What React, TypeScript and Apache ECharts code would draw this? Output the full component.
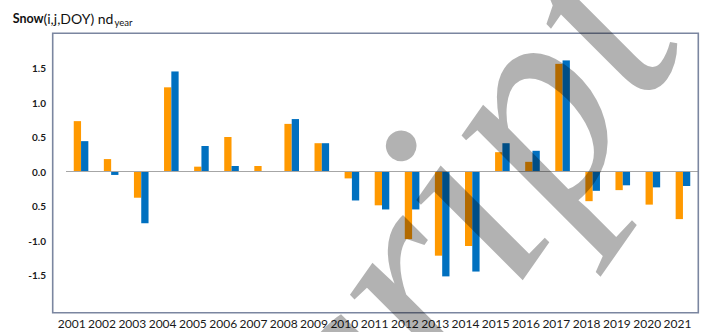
import React, { useEffect, useRef } from "react";
import * as echarts from "echarts";

// Years on the category axis
const years = [
  "2001", "2002", "2003", "2004", "2005", "2006", "2007", "2008", "2009", "2010", "2011",
  "2012", "2013", "2014", "2015", "2016", "2017", "2018", "2019", "2020", "2021",
];

// Annual snow-day anomalies, first series (orange)
const seriesOrange = [
  0.73, 0.18, -0.38, 1.22, 0.07, 0.5, 0.08, 0.69, 0.41, -0.1, -0.49,
  -0.98, -1.22, -1.08, 0.28, 0.14, 1.56, -0.43, -0.27, -0.48, -0.69,
];

// Annual snow-day anomalies, second series (blue)
const seriesBlue = [
  0.44, -0.05, -0.75, 1.45, 0.37, 0.08, 0, 0.76, 0.41, -0.42, -0.55,
  -0.55, -1.52, -1.45, 0.41, 0.3, 1.61, -0.28, -0.2, -0.23, -0.21,
];

// Value-axis ticks and the text printed beside each of them
const yTickValues = [-1.5, -1, -0.5, 0, 0.5, 1, 1.5];
const yTickLabels = ["-1.5", "-1.0", "0.5", "0.0", "0.5", "1.0", "1.5"];

const ORANGE = "#FF9900";
const BLUE = "#0070C0";
const FRAME = "#7b86a0";
const TEXT = "#1a1a1a";

// Diagonal watermark across the plot
const WM_TEXT = "Manuscript";
const WM_SIZE = 290;
const WM_ANGLE = (55 * Math.PI) / 180;
const WM_X = -78;
const WM_Y = 1138;

export default function App() {
  const ref = useRef<HTMLDivElement>(null);

  useEffect(() => {
    if (!ref.current) return;
    const chart = echarts.init(ref.current, null, { renderer: "svg" });

    const gridTop = 33.5;
    const gridHeight = 276;

    chart.setOption({
      animation: false,
      backgroundColor: "#ffffff",
      grid: [
        { left: 66, top: gridTop, width: 632, height: gridHeight },
        { left: 56.6, top: gridTop, width: 636, height: gridHeight },
      ],
      xAxis: [
        {
          type: "category",
          gridIndex: 0,
          data: years,
          axisLine: { show: false },
          axisTick: { show: false },
          axisLabel: { show: false },
          splitLine: { show: false },
        },
        {
          type: "category",
          gridIndex: 1,
          data: years,
          axisLine: { show: false },
          axisTick: { show: false },
          axisLabel: {
            interval: 0,
            margin: 8,
            fontFamily: "Lato",
            fontSize: 12,
            color: TEXT,
          },
          splitLine: { show: false },
        },
      ],
      yAxis: [
        {
          type: "value",
          gridIndex: 0,
          min: -2,
          max: 2,
          interval: 0.5,
          axisLine: { show: false },
          axisTick: { show: false },
          splitLine: { show: false },
          axisLabel: {
            margin: 20,
            fontFamily: "Lato",
            fontWeight: "bold",
            fontSize: 10,
            color: TEXT,
            formatter: (v: number) => {
              const i = yTickValues.findIndex((t) => Math.abs(t - v) < 1e-6);
              return i >= 0 ? yTickLabels[i] : "";
            },
          },
        },
        {
          type: "value",
          gridIndex: 1,
          min: -2,
          max: 2,
          show: false,
        },
      ],
      series: [
        {
          type: "bar",
          name: "orange",
          xAxisIndex: 0,
          yAxisIndex: 0,
          data: seriesOrange,
          barWidth: 7.3,
          barGap: "0%",
          itemStyle: { color: ORANGE },
          markLine: {
            silent: true,
            symbol: "none",
            label: { show: false },
            lineStyle: { color: "#a6a6a6", width: 1, type: "solid" },
            data: [{ yAxis: 0 }],
          },
        },
        {
          type: "bar",
          name: "blue",
          xAxisIndex: 0,
          yAxisIndex: 0,
          data: seriesBlue,
          barWidth: 7.3,
          barGap: "0%",
          itemStyle: { color: BLUE },
        },
      ],
      graphic: [
        {
          type: "rect",
          shape: { x: 52.7, y: 33.3, width: 645.6, height: 279.4 },
          style: { fill: "none", stroke: FRAME, lineWidth: 1.6 },
          z: 10,
        },
        {
          type: "text",
          x: 12.7,
          y: 18,
          style: {
            text: "Snow",
            fontFamily: "Lato",
            fontWeight: "bold",
            fontSize: 12.5,
            fill: "#111111",
            align: "left",
            verticalAlign: "middle",
          },
        },
        {
          type: "text",
          x: 43.5,
          y: 18,
          style: {
            text: "(i,j,DOY) nd",
            fontFamily: "Lato",
            fontSize: 14,
            fill: "#111111",
            align: "left",
            verticalAlign: "middle",
          },
        },
        {
          type: "text",
          x: 114.5,
          y: 22,
          style: {
            text: "year",
            fontFamily: "Lato",
            fontSize: 9.5,
            fill: "#111111",
            align: "left",
            verticalAlign: "middle",
          },
        },
        {
          type: "text",
          x: WM_X,
          y: WM_Y,
          rotation: WM_ANGLE,
          z: 100,
          silent: true,
          style: {
            text: WM_TEXT,
            x: 0,
            y: -0.3375 * WM_SIZE,
            fontFamily: "Liberation Serif",
            fontStyle: "italic",
            fontSize: WM_SIZE,
            fill: "rgba(0,0,0,0.3)",
            align: "left",
            verticalAlign: "middle",
          },
        },
      ],
    });

    return () => chart.dispose();
  }, []);

  return (
    <div
      ref={ref}
      style={{ position: "fixed", left: 0, top: 0, width: 704, height: 332 }}
    />
  );
}
